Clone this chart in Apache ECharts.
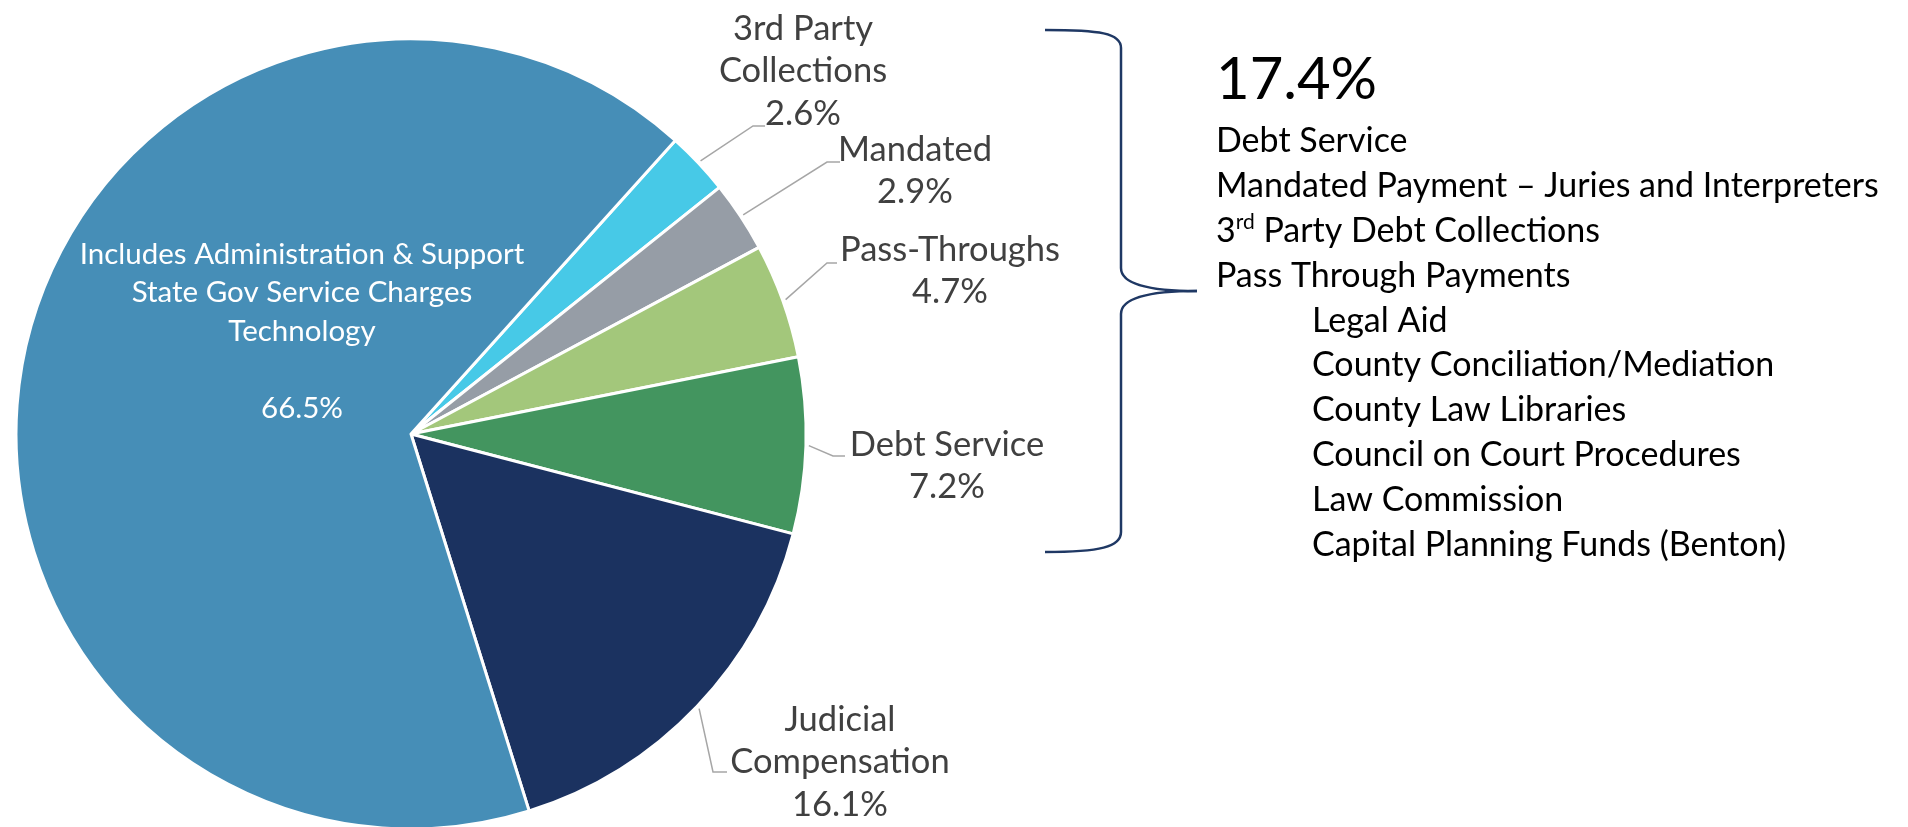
<!DOCTYPE html>
<html>
<head>
<meta charset="utf-8">
<script src="https://cdn.jsdelivr.net/npm/echarts@6/dist/echarts.min.js"></script>
<style>
html,body{margin:0;padding:0;background:#fff;}
#chart{width:1908px;height:827px;}
</style>
</head>
<body>
<div id="chart"></div>
<script>
// ---- data ----
const sliceNames = ['3rd Party Collections', 'Mandated', 'Pass-Throughs', 'Debt Service', 'Judicial Compensation', 'Administration & Support, State Gov Service Charges, Technology'];
const labelTexts = ['3rd Party\nCollections', 'Mandated', 'Pass-Throughs', 'Debt Service', 'Judicial\nCompensation', 'Includes Administration & Support\nState Gov Service Charges\nTechnology\n'];
const sliceValues = [2.6, 2.9, 4.7, 7.2, 16.1, 66.5];
const groupTotal = '17.4%';
const groupItems = ['Debt Service', 'Mandated Payment \u2013 Juries and Interpreters', '3{sup|rd} Party Debt Collections', 'Pass Through Payments'];
const passThroughItems = ['Legal Aid', 'County Conciliation/Mediation', 'County Law Libraries', 'Council on Court Procedures', 'Law Commission', 'Capital Planning Funds (Benton)'];

// ---- styles / layout ----
const sliceColors = ['#47C9E7', '#969DA6', '#A3C77B', '#43955F', '#1B3260', '#468EB7'];
const pieCenter = [411, 434];
const pieRadius = 395;
const startAngle = 48;
const labelAnchors = [
  {x: 803, y: 71, bend: [753, 126], end: [765, 126]},
  {x: 915, y: 171, bend: [827, 162], end: [840, 162]},
  {x: 950, y: 271, bend: [827, 263], end: [837, 263]},
  {x: 947, y: 466, bend: [833, 456], end: [845, 456]},
  {x: 840, y: 762, bend: [713, 772], end: [727, 772]},
  {x: 302, y: 331}
];
const FONT = 'Lato';
const BRACE = '#1F3864';

const total = sliceValues.reduce((a, b) => a + b, 0);
function edgePoint(i) {
  let cum = 0;
  for (let k = 0; k < i; k++) cum += sliceValues[k];
  const ang = (startAngle - (cum + sliceValues[i] / 2) / total * 360) * Math.PI / 180;
  const r = pieRadius + 3;
  return [pieCenter[0] + r * Math.cos(ang), pieCenter[1] - r * Math.sin(ang)];
}

const chart = echarts.init(document.getElementById('chart'), null, {renderer: 'canvas'});

const pieData = sliceValues.map((v, i) => {
  const item = {name: sliceNames[i], value: v, itemStyle: {color: sliceColors[i]}};
  if (i === 5) {
    item.label = {position: 'inside', color: '#ffffff', fontSize: 29.5, lineHeight: 38.5};
  }
  return item;
});

const braceStyle = {fill: 'none', stroke: BRACE, lineWidth: 2.5};
const graphics = [
  {type: 'bezierCurve', shape: {x1: 1045, y1: 30, cpx1: 1100, cpy1: 30, cpx2: 1121, cpy2: 33, x2: 1121, y2: 48}, style: braceStyle},
  {type: 'line', shape: {x1: 1121, y1: 48, x2: 1121, y2: 268}, style: braceStyle},
  {type: 'bezierCurve', shape: {x1: 1121, y1: 268, cpx1: 1121, cpy1: 284, cpx2: 1150, cpy2: 291, x2: 1197, y2: 291}, style: braceStyle},
  {type: 'bezierCurve', shape: {x1: 1197, y1: 291, cpx1: 1150, cpy1: 291, cpx2: 1121, cpy2: 298, x2: 1121, y2: 314}, style: braceStyle},
  {type: 'line', shape: {x1: 1121, y1: 314, x2: 1121, y2: 532}, style: braceStyle},
  {type: 'bezierCurve', shape: {x1: 1121, y1: 532, cpx1: 1121, cpy1: 547, cpx2: 1100, cpy2: 552, x2: 1045, y2: 552}, style: braceStyle}
];
graphics.push({
  type: 'text', x: 1216, y: 80,
  style: {text: groupTotal, fontFamily: FONT, fontSize: 58, fill: '#000', verticalAlign: 'middle', align: 'left'}
});
const lineTop = 141.5, lineStep = 44.8;
groupItems.forEach((t, i) => {
  graphics.push({
    type: 'text', x: 1216, y: lineTop + i * lineStep,
    style: {text: t, fontFamily: FONT, fontSize: 34, fill: '#000', verticalAlign: 'middle', align: 'left',
      rich: {sup: {fontFamily: FONT, fontSize: 21, fill: '#000', padding: [0, 0, 18, 0]}}}
  });
});
passThroughItems.forEach((t, i) => {
  graphics.push({
    type: 'text', x: 1312, y: lineTop + (i + groupItems.length) * lineStep,
    style: {text: t, fontFamily: FONT, fontSize: 34, fill: '#000', verticalAlign: 'middle', align: 'left'}
  });
});

chart.setOption({
  animation: false,
  backgroundColor: '#ffffff',
  series: [{
    type: 'pie',
    center: pieCenter,
    radius: pieRadius,
    startAngle: startAngle,
    clockwise: true,
    avoidLabelOverlap: false,
    itemStyle: {borderColor: '#ffffff', borderWidth: 3},
    label: {
      show: true,
      position: 'outside',
      fontFamily: FONT,
      fontSize: 34.5,
      lineHeight: 42.5,
      color: '#404040',
      align: 'center',
      formatter: p => labelTexts[p.dataIndex] + '\n' + sliceValues[p.dataIndex].toFixed(1) + '%'
    },
    labelLine: {show: true, lineStyle: {color: '#A6A6A6', width: 1.5}},
    labelLayout: function (params) {
      const i = params.dataIndex;
      const a = labelAnchors[i];
      const out = {x: a.x, y: a.y, align: 'center', verticalAlign: 'middle'};
      if (a.bend) out.labelLinePoints = [edgePoint(i), a.bend, a.end];
      return out;
    },
    emphasis: {disabled: true},
    data: pieData
  }],
  graphic: graphics
});
</script>
</body>
</html>
